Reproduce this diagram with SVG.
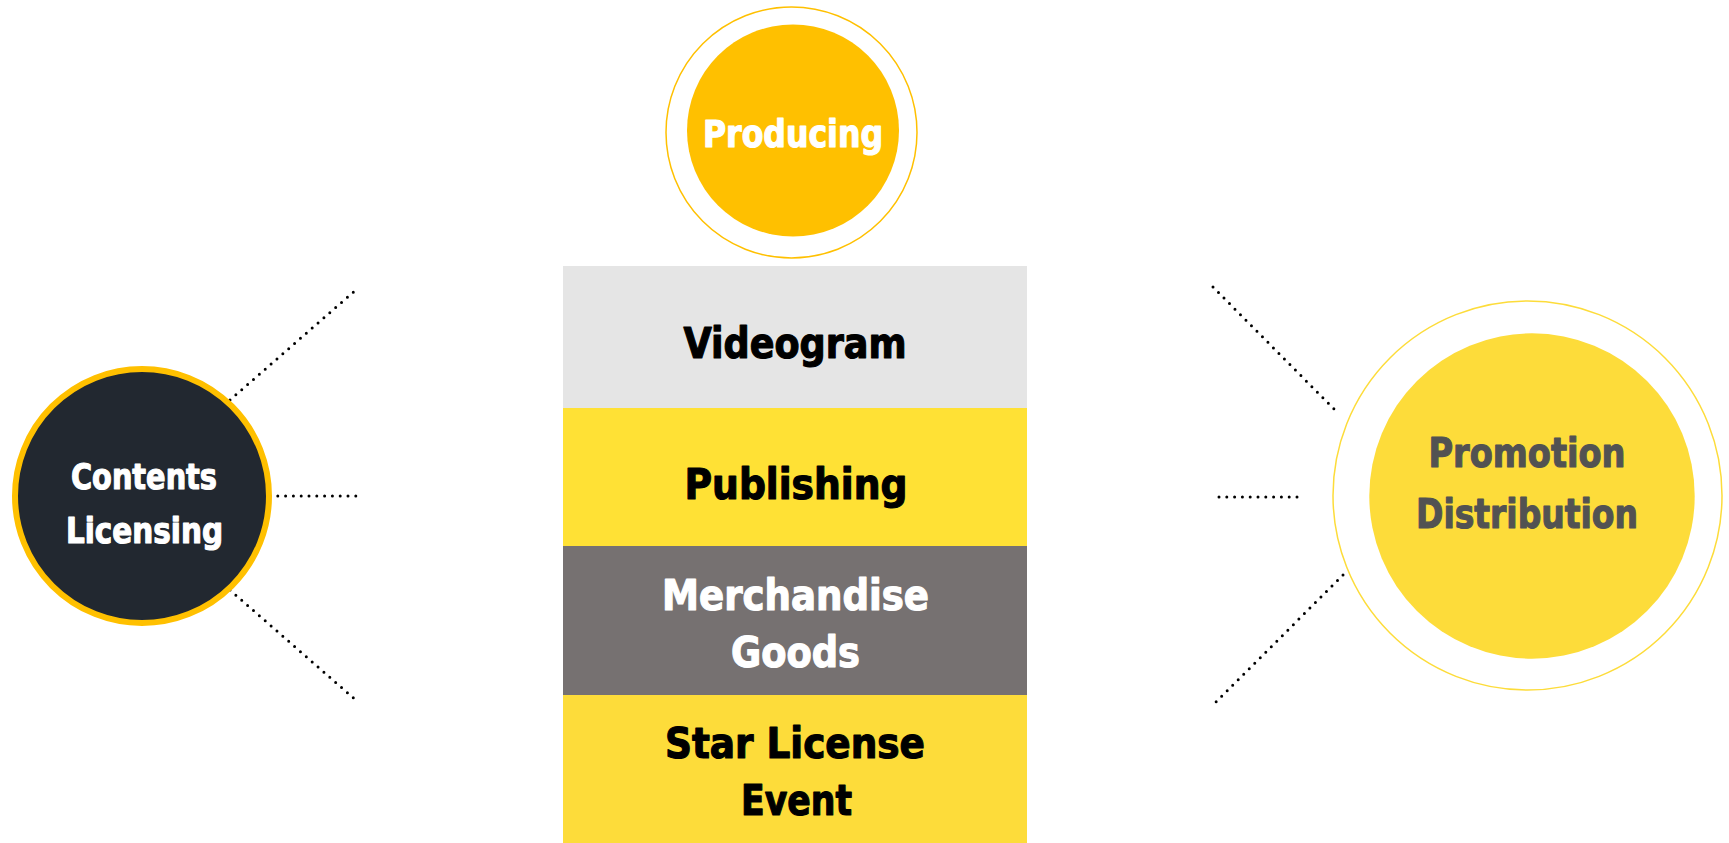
<svg xmlns="http://www.w3.org/2000/svg" width="1729" height="843" viewBox="0 0 1729 843">
<style>
.t{font-family:"DejaVu Sans Condensed","DejaVu Sans","Liberation Sans",sans-serif;font-weight:bold;text-anchor:middle;stroke-width:1.1;stroke-linejoin:round;}
.dot{fill:none;stroke:#000;stroke-width:3;stroke-linecap:round;stroke-dasharray:0 7.8;}
</style>
<rect width="1729" height="843" fill="#fff"/>
<g id="connectors">
<line class="dot" x1="230" y1="400" x2="358" y2="288"/>
<line class="dot" x1="270" y1="496" x2="357" y2="496"/>
<line class="dot" x1="230" y1="590" x2="358" y2="702"/>
<line class="dot" x1="1213" y1="287" x2="1338" y2="413"/>
<line class="dot" x1="1219" y1="497" x2="1304" y2="497"/>
<line class="dot" x1="1343" y1="575" x2="1213" y2="705"/>
</g>
<g id="producing">
<circle cx="791.5" cy="132.5" r="125.5" fill="none" stroke="#FFC000" stroke-width="1.5"/>
<circle cx="793" cy="130.5" r="106" fill="#FFC000"/>
<text class="t" x="793" y="147" font-size="37" fill="#fff" stroke="#fff" textLength="180" lengthAdjust="spacingAndGlyphs">Producing</text>
</g>
<g id="contents-licensing">
<circle cx="142" cy="496" r="127" fill="#222830" stroke="#FFC000" stroke-width="6"/>
<text class="t" x="144" y="489" font-size="36" fill="#fff" stroke="#fff" textLength="146" lengthAdjust="spacingAndGlyphs">Contents</text>
<text class="t" x="144.5" y="543" font-size="36" fill="#fff" stroke="#fff" textLength="157" lengthAdjust="spacingAndGlyphs">Licensing</text>
</g>
<g id="promotion-distribution">
<circle cx="1527.5" cy="495.5" r="194.5" fill="none" stroke="#FDDC3A" stroke-width="1.5"/>
<circle cx="1532" cy="496" r="162.7" fill="#FDDC3A"/>
<text class="t" x="1527" y="466.5" font-size="41" fill="#525252" stroke="#525252" textLength="197" lengthAdjust="spacingAndGlyphs">Promotion</text>
<text class="t" x="1527" y="528" font-size="41" fill="#525252" stroke="#525252" textLength="222" lengthAdjust="spacingAndGlyphs">Distribution</text>
</g>
<g id="videogram">
<rect x="563" y="266" width="464" height="142" fill="#E5E5E5"/>
<text class="t" x="795" y="358" font-size="42" fill="#000" stroke="#000" textLength="223" lengthAdjust="spacingAndGlyphs">Videogram</text>
</g>
<g id="publishing">
<rect x="563" y="408" width="464" height="138" fill="#FFE135"/>
<text class="t" x="796" y="499" font-size="42" fill="#000" stroke="#000" textLength="223" lengthAdjust="spacingAndGlyphs">Publishing</text>
</g>
<g id="merchandise-goods">
<rect x="563" y="546" width="464" height="149" fill="#767171"/>
<text class="t" x="795.5" y="610" font-size="42" fill="#fff" stroke="#fff" textLength="267" lengthAdjust="spacingAndGlyphs">Merchandise</text>
<text class="t" x="795.5" y="667" font-size="42" fill="#fff" stroke="#fff" textLength="129" lengthAdjust="spacingAndGlyphs">Goods</text>
</g>
<g id="star-license-event">
<rect x="563" y="695" width="464" height="148" fill="#FDDC3A"/>
<text class="t" x="795" y="758" font-size="42" fill="#000" stroke="#000" textLength="260" lengthAdjust="spacingAndGlyphs">Star License</text>
<text class="t" x="796.5" y="815" font-size="42" fill="#000" stroke="#000" textLength="111" lengthAdjust="spacingAndGlyphs">Event</text>
</g>
</svg>
